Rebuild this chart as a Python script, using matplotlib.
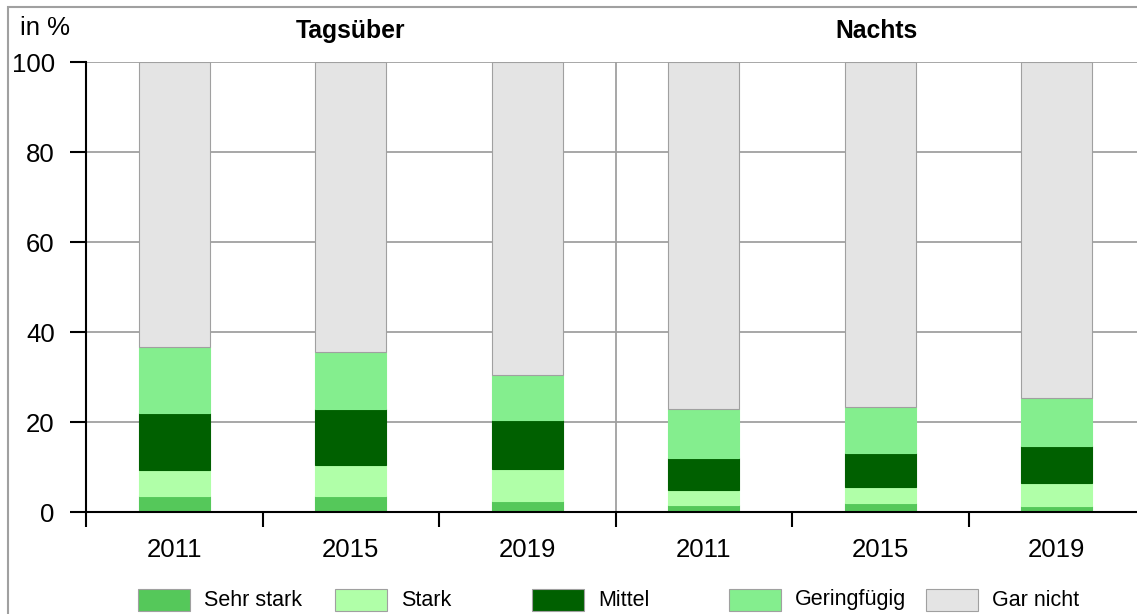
import numpy as np
import matplotlib
matplotlib.use('Agg')
import matplotlib.pyplot as plt
import matplotlib.transforms as mtransforms
from matplotlib.patches import Rectangle

plt.rcParams['font.family'] = ['Liberation Sans', 'DejaVu Sans']

# data
years = ['2011', '2015', '2019', '2011', '2015', '2019']
panels = ['Tagsüber', 'Nachts']
labels = ['Sehr stark', 'Stark', 'Mittel', 'Geringfügig', 'Gar nicht']
colors = ['#55c85a', '#b0ffa8', '#006000', '#84ee8e', '#e4e4e4']

sehr_stark = [3.5, 3.5, 2.4, 1.5, 1.9, 1.4]
stark = [5.8, 6.9, 7.2, 3.5, 3.7, 5.0]
mittel = [12.8, 12.6, 10.8, 6.9, 7.5, 8.3]
geringfuegig = [14.6, 12.5, 10.0, 11.1, 10.2, 10.6]
gar_nicht = [100 - a - b - c - d for a, b, c, d in zip(sehr_stark, stark, mittel, geringfuegig)]
series = [sehr_stark, stark, mittel, geringfuegig, gar_nicht]

W, H = 1137, 614
fig = plt.figure(figsize=(W / 100, H / 100), dpi=100)
ax = fig.add_axes([86 / W, 1 - 512 / H, (1145 - 86) / W, (512 - 62) / H])

x = np.arange(len(years))
bottom = np.zeros(len(years))
for i, (vals, col) in enumerate(zip(series, colors)):
    edge = '#a0a0a0' if i == len(series) - 1 else col
    ax.bar(x, vals, width=0.4, bottom=bottom, color=col, edgecolor=edge,
           linewidth=0.8, zorder=3)
    bottom += np.array(vals)

ax.set_xlim(-0.5, 5.5)
ax.set_ylim(0, 100)
ax.set_yticks([0, 20, 40, 60, 80, 100])
ax.yaxis.grid(True, color='#a0a0a0', linewidth=1.3, zorder=0)
ax.axvline(2.5, color='#a0a0a0', linewidth=1.3, zorder=1)

ax.set_xticks(x)
ax.set_xticklabels(years)
ax.set_xticks([-0.5, 0.5, 1.5, 2.5, 3.5, 4.5], minor=True)
ax.tick_params(axis='x', which='major', length=0, pad=19, labelsize=18.5)
ax.tick_params(axis='x', which='minor', length=11, width=1.5, direction='out', color='black')
ax.tick_params(axis='y', length=11.5, width=1.5, pad=11, labelsize=18.5, color='black')

for s in ['top', 'right']:
    ax.spines[s].set_visible(False)
ax.spines['left'].set_linewidth(1.5)
ax.spines['bottom'].set_linewidth(1.5)
ax.spines['bottom'].set_zorder(4)

# panel titles
trans = mtransforms.blended_transform_factory(ax.transData, fig.transFigure)
for i, p in enumerate(panels):
    ax.text(1 + 3 * i - 0.02 * i, 1 - 31 / H, p, transform=trans,
            ha='center', va='center', fontsize=17.8, fontweight='bold')
fig.text(20 / W, 1 - 28 / H, 'in %', ha='left', va='center', fontsize=18.5)

# legend
for i, (lab, col) in enumerate(zip(labels, colors)):
    x0 = 138 + i * 197
    fig.patches.append(Rectangle((x0 / W, 1 - 611 / H), 52 / W, 22 / H, transform=fig.transFigure,
                                 facecolor=col, edgecolor='#a0a0a0', linewidth=0.8))
    fig.text((x0 + 66) / W, 1 - 600 / H, lab, ha='left', va='center', fontsize=15.5)

# outer frame
fig.patches.append(Rectangle((8 / W, -0.1), 1.2, 1.1 - 7.5 / H, transform=fig.transFigure,
                             fill=False, edgecolor='#a0a0a0', linewidth=1.5))

fig.savefig('out.png', dpi=100)
